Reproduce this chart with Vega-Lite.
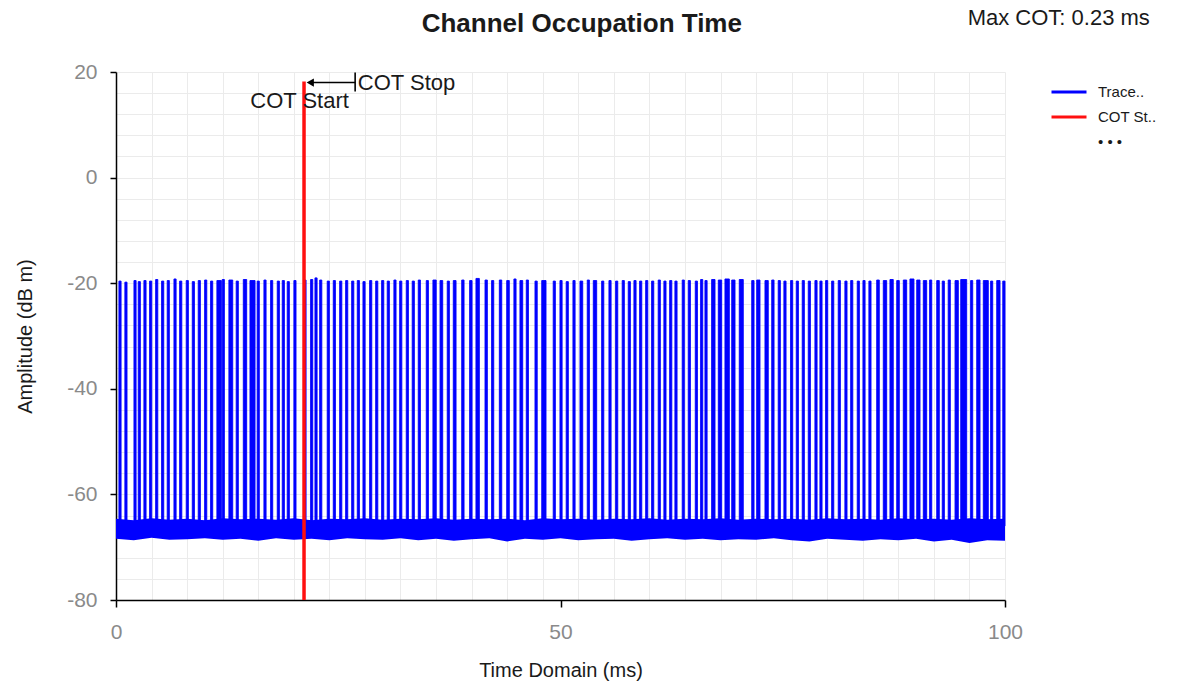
{
  "$schema": "https://vega.github.io/schema/vega-lite/v6.json",
  "width": 889,
  "height": 528,
  "autosize": {"type": "none"},
  "padding": {"left": 116, "top": 72, "right": 178, "bottom": 88},
  "background": "white",
  "config": {
    "font": "Liberation Sans",
    "view": {"stroke": null},
    "axis": {"domainColor": "#000000", "domainWidth": 1.5, "gridColor": "#ebebeb", "gridWidth": 1, "labelColor": "#8a8a8a", "labelFontSize": 21, "titleFontSize": 20, "titleFontWeight": "normal", "titleColor": "#1a1a1a", "tickWidth": 1.5, "labelOverlap": false, "labelFlush": false, "tickCount": 200}
  },
  "datasets": {
    "base": [
      {"t": 0, "lo": -68.4, "hi": -64.6}, {"t": 2, "lo": -68.7, "hi": -64.9}, {"t": 4, "lo": -68.2, "hi": -64.5}, {"t": 6, "lo": -68.6, "hi": -64.8},
      {"t": 8, "lo": -68.5, "hi": -64.6}, {"t": 10, "lo": -68.3, "hi": -64.9}, {"t": 12, "lo": -68.6, "hi": -64.5}, {"t": 14, "lo": -68.4, "hi": -64.7},
      {"t": 16, "lo": -68.8, "hi": -64.6}, {"t": 18, "lo": -68.3, "hi": -64.8}, {"t": 20, "lo": -68.6, "hi": -64.5}, {"t": 22, "lo": -68.4, "hi": -64.9},
      {"t": 24, "lo": -68.7, "hi": -64.6}, {"t": 26, "lo": -68.3, "hi": -64.7}, {"t": 28, "lo": -68.5, "hi": -64.5}, {"t": 30, "lo": -68.6, "hi": -64.8},
      {"t": 32, "lo": -68.3, "hi": -64.6}, {"t": 34, "lo": -68.7, "hi": -64.7}, {"t": 36, "lo": -68.4, "hi": -64.5}, {"t": 38, "lo": -68.8, "hi": -64.8},
      {"t": 40, "lo": -68.5, "hi": -64.6}, {"t": 42, "lo": -68.3, "hi": -64.7}, {"t": 44, "lo": -68.9, "hi": -64.6}, {"t": 46, "lo": -68.4, "hi": -64.9},
      {"t": 48, "lo": -68.6, "hi": -64.5}, {"t": 50, "lo": -68.3, "hi": -64.7}, {"t": 52, "lo": -68.7, "hi": -64.6}, {"t": 54, "lo": -68.5, "hi": -64.8},
      {"t": 56, "lo": -68.4, "hi": -64.6}, {"t": 58, "lo": -68.8, "hi": -64.7}, {"t": 60, "lo": -68.5, "hi": -64.5}, {"t": 62, "lo": -68.3, "hi": -64.8},
      {"t": 64, "lo": -68.6, "hi": -64.6}, {"t": 66, "lo": -68.4, "hi": -64.7}, {"t": 68, "lo": -68.7, "hi": -64.5}, {"t": 70, "lo": -68.5, "hi": -64.8},
      {"t": 72, "lo": -68.6, "hi": -64.6}, {"t": 74, "lo": -68.3, "hi": -64.7}, {"t": 76, "lo": -68.7, "hi": -64.6}, {"t": 78, "lo": -68.9, "hi": -64.8},
      {"t": 80, "lo": -68.4, "hi": -64.5}, {"t": 82, "lo": -68.6, "hi": -64.7}, {"t": 84, "lo": -68.8, "hi": -64.6}, {"t": 86, "lo": -68.5, "hi": -64.8},
      {"t": 88, "lo": -68.7, "hi": -64.5}, {"t": 90, "lo": -68.4, "hi": -64.7}, {"t": 92, "lo": -68.9, "hi": -64.6}, {"t": 94, "lo": -68.6, "hi": -64.8},
      {"t": 96, "lo": -69.2, "hi": -64.5}, {"t": 98, "lo": -68.7, "hi": -64.7}, {"t": 100, "lo": -68.8, "hi": -64.6}
    ],
    "spikes": [
      {"t0": 0.33, "t1": 0.57, "top": -19.6}, {"t0": 1.0, "t1": 1.24, "top": -19.8}, {"t0": 2.02, "t1": 2.26, "top": -19.5}, {"t0": 2.5, "t1": 2.74, "top": -19.7},
      {"t0": 3.14, "t1": 3.38, "top": -19.5}, {"t0": 3.78, "t1": 4.02, "top": -19.6}, {"t0": 4.46, "t1": 4.7, "top": -19.3}, {"t0": 5.13, "t1": 5.37, "top": -19.6},
      {"t0": 5.76, "t1": 6.0, "top": -19.5}, {"t0": 6.52, "t1": 6.76, "top": -19.2}, {"t0": 7.16, "t1": 7.4, "top": -19.6}, {"t0": 7.9, "t1": 8.14, "top": -19.5},
      {"t0": 8.58, "t1": 8.82, "top": -19.7}, {"t0": 9.25, "t1": 9.49, "top": -19.5}, {"t0": 9.97, "t1": 10.21, "top": -19.4}, {"t0": 10.64, "t1": 10.88, "top": -19.6},
      {"t0": 11.35, "t1": 11.85, "top": -19.5}, {"t0": 11.95, "t1": 12.19, "top": -19.3}, {"t0": 12.7, "t1": 13.13, "top": -19.4}, {"t0": 13.52, "t1": 13.76, "top": -19.6},
      {"t0": 14.32, "t1": 14.7, "top": -19.3}, {"t0": 15.07, "t1": 15.64, "top": -19.5}, {"t0": 15.88, "t1": 16.12, "top": -19.6}, {"t0": 16.64, "t1": 16.88, "top": -19.4},
      {"t0": 17.39, "t1": 17.63, "top": -19.5}, {"t0": 18.14, "t1": 18.38, "top": -19.6}, {"t0": 18.7, "t1": 18.94, "top": -19.5}, {"t0": 19.26, "t1": 19.5, "top": -19.7},
      {"t0": 20.01, "t1": 20.25, "top": -19.5}, {"t0": 21.14, "t1": 21.38, "top": -19.4}, {"t0": 21.89, "t1": 22.13, "top": -19.3}, {"t0": 22.38, "t1": 22.62, "top": -19.0},
      {"t0": 22.91, "t1": 23.15, "top": -19.4}, {"t0": 23.76, "t1": 24.0, "top": -19.6}, {"t0": 24.44, "t1": 24.68, "top": -19.5}, {"t0": 25.16, "t1": 25.4, "top": -19.6},
      {"t0": 25.83, "t1": 26.07, "top": -19.5}, {"t0": 26.51, "t1": 26.75, "top": -19.6}, {"t0": 27.14, "t1": 27.38, "top": -19.5}, {"t0": 27.78, "t1": 28.02, "top": -19.7},
      {"t0": 28.53, "t1": 28.77, "top": -19.5}, {"t0": 29.21, "t1": 29.45, "top": -19.6}, {"t0": 29.88, "t1": 30.12, "top": -19.5}, {"t0": 30.51, "t1": 30.75, "top": -19.6},
      {"t0": 31.26, "t1": 31.5, "top": -19.4}, {"t0": 31.91, "t1": 32.15, "top": -19.6}, {"t0": 32.65, "t1": 32.89, "top": -19.5}, {"t0": 33.32, "t1": 33.56, "top": -19.6},
      {"t0": 34.0, "t1": 34.24, "top": -19.4}, {"t0": 34.9, "t1": 35.14, "top": -19.5}, {"t0": 35.65, "t1": 36.02, "top": -19.4}, {"t0": 36.45, "t1": 36.75, "top": -19.5},
      {"t0": 37.26, "t1": 37.5, "top": -19.6}, {"t0": 37.94, "t1": 38.25, "top": -19.5}, {"t0": 38.89, "t1": 39.15, "top": -19.4}, {"t0": 39.78, "t1": 40.05, "top": -19.5},
      {"t0": 40.49, "t1": 40.87, "top": -19.1}, {"t0": 41.51, "t1": 41.77, "top": -19.4}, {"t0": 42.25, "t1": 42.49, "top": -19.5}, {"t0": 43.12, "t1": 43.39, "top": -19.4},
      {"t0": 43.95, "t1": 44.24, "top": -19.5}, {"t0": 44.76, "t1": 45.0, "top": -19.2}, {"t0": 45.44, "t1": 45.75, "top": -19.5}, {"t0": 46.15, "t1": 46.39, "top": -19.4},
      {"t0": 47.13, "t1": 47.38, "top": -19.6}, {"t0": 47.89, "t1": 48.37, "top": -19.5}, {"t0": 49.18, "t1": 49.42, "top": -19.6}, {"t0": 49.94, "t1": 50.18, "top": -19.5},
      {"t0": 50.64, "t1": 50.88, "top": -19.7}, {"t0": 51.4, "t1": 51.64, "top": -19.5}, {"t0": 52.19, "t1": 52.5, "top": -19.6}, {"t0": 53.01, "t1": 53.25, "top": -19.4},
      {"t0": 53.69, "t1": 54.07, "top": -19.5}, {"t0": 54.63, "t1": 54.87, "top": -19.6}, {"t0": 55.45, "t1": 55.69, "top": -19.5}, {"t0": 56.2, "t1": 56.44, "top": -19.6},
      {"t0": 56.94, "t1": 57.18, "top": -19.5}, {"t0": 57.62, "t1": 57.86, "top": -19.7}, {"t0": 58.26, "t1": 58.5, "top": -19.5}, {"t0": 58.9, "t1": 59.14, "top": -19.6},
      {"t0": 59.58, "t1": 59.82, "top": -19.5}, {"t0": 60.25, "t1": 60.49, "top": -19.6}, {"t0": 60.99, "t1": 61.23, "top": -19.4}, {"t0": 61.63, "t1": 61.87, "top": -19.6},
      {"t0": 62.28, "t1": 62.52, "top": -19.5}, {"t0": 62.87, "t1": 63.11, "top": -19.6}, {"t0": 63.69, "t1": 63.93, "top": -19.4}, {"t0": 64.37, "t1": 64.61, "top": -19.5},
      {"t0": 65.16, "t1": 65.4, "top": -19.6}, {"t0": 65.76, "t1": 66.0, "top": -19.3}, {"t0": 66.25, "t1": 66.49, "top": -19.5}, {"t0": 67.0, "t1": 67.38, "top": -19.3},
      {"t0": 67.75, "t1": 68.13, "top": -19.4}, {"t0": 68.5, "t1": 68.99, "top": -19.2}, {"t0": 69.26, "t1": 69.63, "top": -19.4}, {"t0": 70.11, "t1": 70.56, "top": -19.3},
      {"t0": 71.51, "t1": 71.77, "top": -19.5}, {"t0": 72.07, "t1": 72.44, "top": -19.4}, {"t0": 73.0, "t1": 73.37, "top": -19.5}, {"t0": 73.76, "t1": 74.02, "top": -19.4},
      {"t0": 74.49, "t1": 74.73, "top": -19.5}, {"t0": 75.13, "t1": 75.37, "top": -19.6}, {"t0": 75.88, "t1": 76.12, "top": -19.5}, {"t0": 76.52, "t1": 76.76, "top": -19.6},
      {"t0": 77.19, "t1": 77.43, "top": -19.5}, {"t0": 77.87, "t1": 78.11, "top": -19.6}, {"t0": 78.62, "t1": 78.86, "top": -19.5}, {"t0": 79.18, "t1": 79.42, "top": -19.6},
      {"t0": 79.82, "t1": 80.06, "top": -19.5}, {"t0": 80.5, "t1": 80.74, "top": -19.6}, {"t0": 81.24, "t1": 81.48, "top": -19.5}, {"t0": 81.99, "t1": 82.23, "top": -19.6},
      {"t0": 82.64, "t1": 82.88, "top": -19.5}, {"t0": 83.38, "t1": 83.62, "top": -19.6}, {"t0": 84.02, "t1": 84.26, "top": -19.5}, {"t0": 84.69, "t1": 84.93, "top": -19.6},
      {"t0": 85.57, "t1": 85.86, "top": -19.4}, {"t0": 86.31, "t1": 86.69, "top": -19.5}, {"t0": 87.06, "t1": 87.43, "top": -19.3}, {"t0": 87.82, "t1": 88.11, "top": -19.5},
      {"t0": 88.56, "t1": 88.94, "top": -19.4}, {"t0": 89.31, "t1": 89.76, "top": -19.2}, {"t0": 90.07, "t1": 90.44, "top": -19.4}, {"t0": 90.81, "t1": 91.19, "top": -19.5},
      {"t0": 91.52, "t1": 91.76, "top": -19.4}, {"t0": 92.32, "t1": 92.61, "top": -19.5}, {"t0": 92.94, "t1": 93.18, "top": -19.6}, {"t0": 93.61, "t1": 93.85, "top": -19.4},
      {"t0": 94.38, "t1": 94.75, "top": -19.5}, {"t0": 95.02, "t1": 95.69, "top": -19.3}, {"t0": 96.13, "t1": 96.37, "top": -19.5}, {"t0": 96.82, "t1": 97.19, "top": -19.4},
      {"t0": 97.56, "t1": 98.12, "top": -19.5}, {"t0": 98.38, "t1": 98.62, "top": -19.6}, {"t0": 99.07, "t1": 99.44, "top": -19.5}, {"t0": 99.75, "t1": 100.0, "top": -19.6}
    ],
    "cot": [{"t": 21.15, "lo": -80, "hi": 18.2}],
    "arrowLines": [
      {"x": 21.9, "x2": 26.9, "y": 18.0, "y2": 18.0},
      {"x": 26.9, "x2": 26.9, "y": 16.3, "y2": 19.9}
    ],
    "arrowHead": [{"x": 21.85, "y": 18.0}],
    "stopLabel": [{"x": 27.2, "y": 18.0, "label": "COT Stop"}],
    "startLabel": [{"x": 20.65, "y": 14.6, "label": "COT Start"}],
    "maxLabel": [{"x": 95.8, "y": 30.3, "label": "Max COT: 0.23 ms"}],
    "titleLabel": [{"x": 52.4, "y": 29.1, "label": "Channel Occupation Time"}]
  },
  "layer": [
    {
      "data": {"name": "base"},
      "mark": {"type": "area", "opacity": 1},
      "encoding": {
        "x": {
          "field": "t", "type": "quantitative",
          "scale": {"domain": [0, 100], "nice": false, "zero": false},
          "axis": {
            "title": "Time Domain (ms)",
            "values": [0, 4, 8, 12, 16, 20, 24, 28, 32, 36, 40, 44, 48, 50, 52, 56, 60, 64, 68, 72, 76, 80, 84, 88, 92, 96, 100],
            "labelExpr": "datum.value % 50 === 0 ? '' + datum.value : ''",
            "tickColor": {"condition": {"test": "datum.value % 50 === 0", "value": "#000000"}, "value": "transparent"},
            "gridColor": {"condition": {"test": "datum.value === 50", "value": "transparent"}, "value": "#ebebeb"},
            "tickSize": 7,
            "tickCount": 200,
            "labelPadding": 14,
            "titleY": 70,
            "titleBaseline": "middle"
          }
        },
        "y": {
          "field": "lo", "type": "quantitative",
          "scale": {"domain": [-80, 20], "nice": false, "zero": false},
          "axis": {
            "title": "Amplitude (dB m)",
            "values": [-80, -76, -72, -68, -64, -60, -56, -52, -48, -44, -40, -36, -32, -28, -24, -20, -16, -12, -8, -4, 0, 4, 8, 12, 16, 20],
            "labelExpr": "datum.value % 20 === 0 ? '' + datum.value : ''",
            "tickColor": {"condition": {"test": "datum.value % 20 === 0", "value": "#000000"}, "value": "transparent"},
            "tickSize": 6,
            "tickCount": 200,
            "labelPadding": 13,
            "titleX": -91,
            "titleY": 264,
            "titleAlign": "center",
            "titleBaseline": "middle"
          }
        },
        "y2": {"field": "hi"},
        "color": {
          "datum": "Trace..", "type": "nominal",
          "scale": {"domain": ["Trace..", "COT St..", "• • •"], "range": ["#0000ff", "#ff1010", "transparent"]},
          "legend": {
            "title": null,
            "orient": "none",
            "legendX": 945.5,
            "legendY": 12.5,
            "padding": 0,
            "labelOffset": 21.5,
            "labelFontSize": 15,
            "labelColor": "#1a1a1a",
            "symbolType": "M-3.5,0H3.5",
            "symbolSize": 100,
            "symbolStrokeWidth": 3,
            "rowPadding": 9,
            "encode": {"symbols": {"update": {"stroke": {"scale": "color", "field": "value"}, "strokeWidth": {"value": 3}, "fill": {"value": "transparent"}}}}
          }
        }
      }
    },
    {
      "data": {"name": "spikes"},
      "mark": {"type": "bar", "stroke": "#0000ff", "strokeWidth": 0.9},
      "encoding": {
        "x": {"field": "t0", "type": "quantitative"},
        "x2": {"field": "t1"},
        "y": {"field": "top", "type": "quantitative"},
        "y2": {"datum": -66},
        "color": {"datum": "Trace..", "type": "nominal"}
      }
    },
    {
      "data": {"name": "cot"},
      "mark": {"type": "rule", "strokeWidth": 3.5},
      "encoding": {
        "x": {"field": "t", "type": "quantitative"},
        "y": {"field": "lo", "type": "quantitative"},
        "y2": {"field": "hi"},
        "color": {"datum": "COT St..", "type": "nominal"}
      }
    },
    {
      "data": {"name": "arrowLines"},
      "mark": {"type": "rule", "color": "#000000", "strokeWidth": 1.6},
      "encoding": {
        "x": {"field": "x", "type": "quantitative"},
        "x2": {"field": "x2"},
        "y": {"field": "y", "type": "quantitative"},
        "y2": {"field": "y2"}
      }
    },
    {
      "data": {"name": "arrowHead"},
      "mark": {"type": "point", "shape": "triangle-left", "filled": true, "color": "#000000", "size": 70, "opacity": 1},
      "encoding": {
        "x": {"field": "x", "type": "quantitative"},
        "y": {"field": "y", "type": "quantitative"}
      }
    },
    {
      "data": {"name": "stopLabel"},
      "mark": {"type": "text", "align": "left", "baseline": "middle", "fontSize": 22, "color": "#1a1a1a"},
      "encoding": {
        "x": {"field": "x", "type": "quantitative"},
        "y": {"field": "y", "type": "quantitative"},
        "text": {"field": "label"}
      }
    },
    {
      "data": {"name": "startLabel"},
      "mark": {"type": "text", "align": "center", "baseline": "middle", "fontSize": 22, "color": "#1a1a1a"},
      "encoding": {
        "x": {"field": "x", "type": "quantitative"},
        "y": {"field": "y", "type": "quantitative"},
        "text": {"field": "label"}
      }
    },
    {
      "data": {"name": "maxLabel"},
      "mark": {"type": "text", "align": "left", "baseline": "middle", "fontSize": 22, "color": "#1a1a1a"},
      "encoding": {
        "x": {"field": "x", "type": "quantitative"},
        "y": {"field": "y", "type": "quantitative"},
        "text": {"field": "label"}
      }
    },
    {
      "data": {"name": "titleLabel"},
      "mark": {"type": "text", "align": "center", "baseline": "middle", "fontSize": 26, "fontWeight": "bold", "color": "#1a1a1a"},
      "encoding": {
        "x": {"field": "x", "type": "quantitative"},
        "y": {"field": "y", "type": "quantitative"},
        "text": {"field": "label"}
      }
    }
  ]
}
